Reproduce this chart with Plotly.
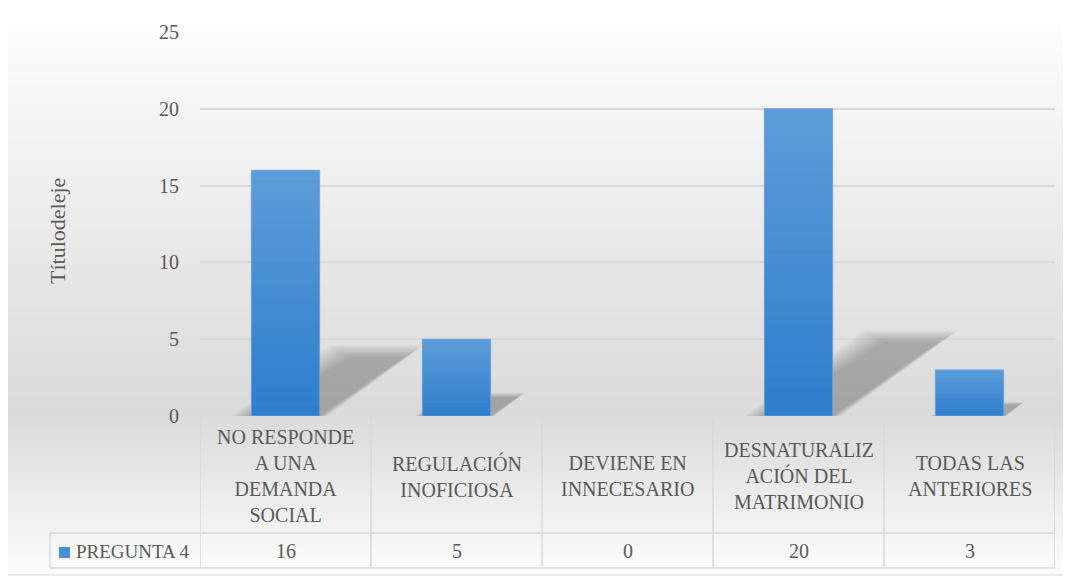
import plotly.graph_objects as go

categories = ["NO RESPONDE<br>A UNA<br>DEMANDA<br>SOCIAL", "REGULACIÓN<br>INOFICIOSA",
              "DEVIENE EN<br>INNECESARIO", "DESNATURALIZ<br>ACIÓN DEL<br>MATRIMONIO",
              "TODAS LAS<br>ANTERIORES"]
values = [16, 5, 0, 20, 3]
series_name = "PREGUNTA 4"
y_title = "Títulodeleje"
y_ticks = [0, 5, 10, 15, 20, 25]

# page is 1071x579; the browser body has an 8px margin, so the figure is offset by 8px
OFF = 8
PAGE_W, PAGE_H = 1071, 579
W, H = PAGE_W - OFF, PAGE_H - OFF
PL, PR, PT, PB = 200, 1055, 32, 416          # plot area in page pixels
L, R, T, B = PL - OFF, W - (PR - OFF), PT - OFF, H - (PB - OFF)
pw, ph = PR - PL, PB - PT

def px_x(x):
    return (x - PL) / pw

def px_y(y):
    return (PB - y) / ph

FONT = "Liberation Serif, DejaVu Serif, Times New Roman, serif"
TXT = "#595959"
GRID = "#d9d9d9"
BAR = "#4590d6"
BAR_TOP = (93, 157, 216)
BAR_BOT = (46, 125, 204)

xs = list(range(len(values)))
BW = 0.4

fig = go.Figure()
fig.add_trace(go.Bar(x=xs, y=values, width=BW, marker=dict(color=BAR, line=dict(width=0)),
                     name=series_name, showlegend=False))

shapes = []
annotations = []

# background gradient (vertical)
stops = [(5, 255), (200, 237), (415, 218), (575, 253)]
def grey(y):
    for (y0, c0), (y1, c1) in zip(stops[:-1], stops[1:]):
        if y0 <= y <= y1:
            return c0 + (c1 - c0) * (y - y0) / (y1 - y0)
    return 255
step = 4
y = 5
while y < 575:
    c = int(round(grey(y + step / 2)))
    shapes.append(dict(type="rect", xref="paper", yref="paper", layer="below",
                       x0=px_x(7), x1=px_x(1067), y0=px_y(y), y1=px_y(min(y + step + 0.5, 575)),
                       fillcolor=f"rgb({c},{c},{c})", line=dict(width=0)))
    y += step
shapes.append(dict(type="rect", xref="paper", yref="paper", layer="below",
                   x0=px_x(7), x1=px_x(1067), y0=px_y(5), y1=px_y(575),
                   line=dict(color=GRID, width=1.2), fillcolor="rgba(0,0,0,0)"))

# soft bar shadows (blurred parallelograms)
for i, v in enumerate(values):
    if v <= 0:
        continue
    sh = 0.031 * v
    top = 0.24 * v
    scale = min(1.0, v / 12)
    layers = 8
    for k in range(layers):
        r = (layers - 1 - k)
        g = r * 0.016 * scale
        gy = r * 0.11 * scale
        x0 = i - BW / 2
        x1 = i + BW / 2
        path = (f"M {x0 - g},0 L {x1 + g * 0.4},0 L {x1 + sh + g},{top + gy} "
                f"L {x0 + sh + 0.08 - g},{top + gy} Z")
        shapes.append(dict(type="path", xref="x", yref="y", layer="between", path=path,
                           fillcolor="rgba(50,50,50,0.042)", line=dict(width=0)))

# vertical gradient overlay on the bars
N = 24
for i, v in enumerate(values):
    if v <= 0:
        continue
    for k in range(N):
        t = (k + 0.5) / N
        col = tuple(int(round(BAR_BOT[j] + (BAR_TOP[j] - BAR_BOT[j]) * t)) for j in range(3))
        shapes.append(dict(type="rect", xref="x", yref="y", layer="above",
                           x0=i - BW / 2, x1=i + BW / 2, y0=v * k / N, y1=v * (k + 1) / N + 0.001 * v,
                           fillcolor=f"rgb{col}", line=dict(width=0)))
    shapes.append(dict(type="rect", xref="x", yref="y", layer="above",
                       x0=i - BW / 2, x1=i + BW / 2, y0=0, y1=v,
                       fillcolor="rgba(0,0,0,0)", line=dict(color="rgba(120,170,225,0.8)", width=1)))

# data table
y_top, y_mid, y_bot = px_y(418), px_y(533), px_y(568)
for b in [i - 0.5 for i in range(len(values) + 1)]:
    shapes.append(dict(type="line", xref="x", yref="paper", x0=b, x1=b, y0=y_top, y1=y_bot,
                       line=dict(color=GRID, width=1.5)))
for yy in (y_mid, y_bot):
    shapes.append(dict(type="line", xref="paper", yref="paper", x0=px_x(50), x1=1, y0=yy, y1=yy,
                       line=dict(color=GRID, width=1.5)))
shapes.append(dict(type="line", xref="paper", yref="paper", x0=px_x(50), x1=px_x(50),
                   y0=y_mid, y1=y_bot, line=dict(color=GRID, width=1.5)))
shapes.append(dict(type="rect", xref="paper", yref="paper", x0=px_x(59), x1=px_x(70),
                   y0=px_y(547), y1=px_y(558), fillcolor=BAR, line=dict(width=0)))
annotations.append(dict(text=series_name, xref="paper", yref="paper", x=px_x(74), y=px_y(551),
                        xanchor="left", yanchor="middle", showarrow=False,
                        font=dict(family=FONT, size=19, color=TXT)))

for i, (c, v) in enumerate(zip(categories, values)):
    annotations.append(dict(text=c, xref="x", yref="paper", x=i, y=px_y(476),
                            xanchor="center", yanchor="middle", showarrow=False,
                            font=dict(family=FONT, size=20, color=TXT)))
    annotations.append(dict(text=str(v), xref="x", yref="paper", x=i, y=px_y(551),
                            xanchor="center", yanchor="middle", showarrow=False,
                            font=dict(family=FONT, size=20, color=TXT)))

annotations.append(dict(text=y_title, xref="paper", yref="paper", x=px_x(57), y=px_y(231),
                        textangle=-90, xanchor="center", yanchor="middle", showarrow=False,
                        font=dict(family=FONT, size=22, color=TXT)))

fig.update_layout(
    width=W, height=H,
    margin=dict(l=L, r=R, t=T, b=B, autoexpand=False),
    paper_bgcolor="white", plot_bgcolor="rgba(0,0,0,0)",
    shapes=shapes, annotations=annotations,
    showlegend=False,
    xaxis=dict(range=[-0.5, len(values) - 0.5], showticklabels=False, showgrid=False,
               zeroline=False, showline=False, ticks="", fixedrange=True),
    yaxis=dict(range=[0, 25], tickvals=y_ticks, showgrid=True, gridcolor=GRID, gridwidth=1.5,
               zeroline=False, showline=False, ticks="", ticklabelstandoff=20,
               tickfont=dict(family=FONT, size=20, color=TXT), fixedrange=True),
)

fig.write_html("out.html")
